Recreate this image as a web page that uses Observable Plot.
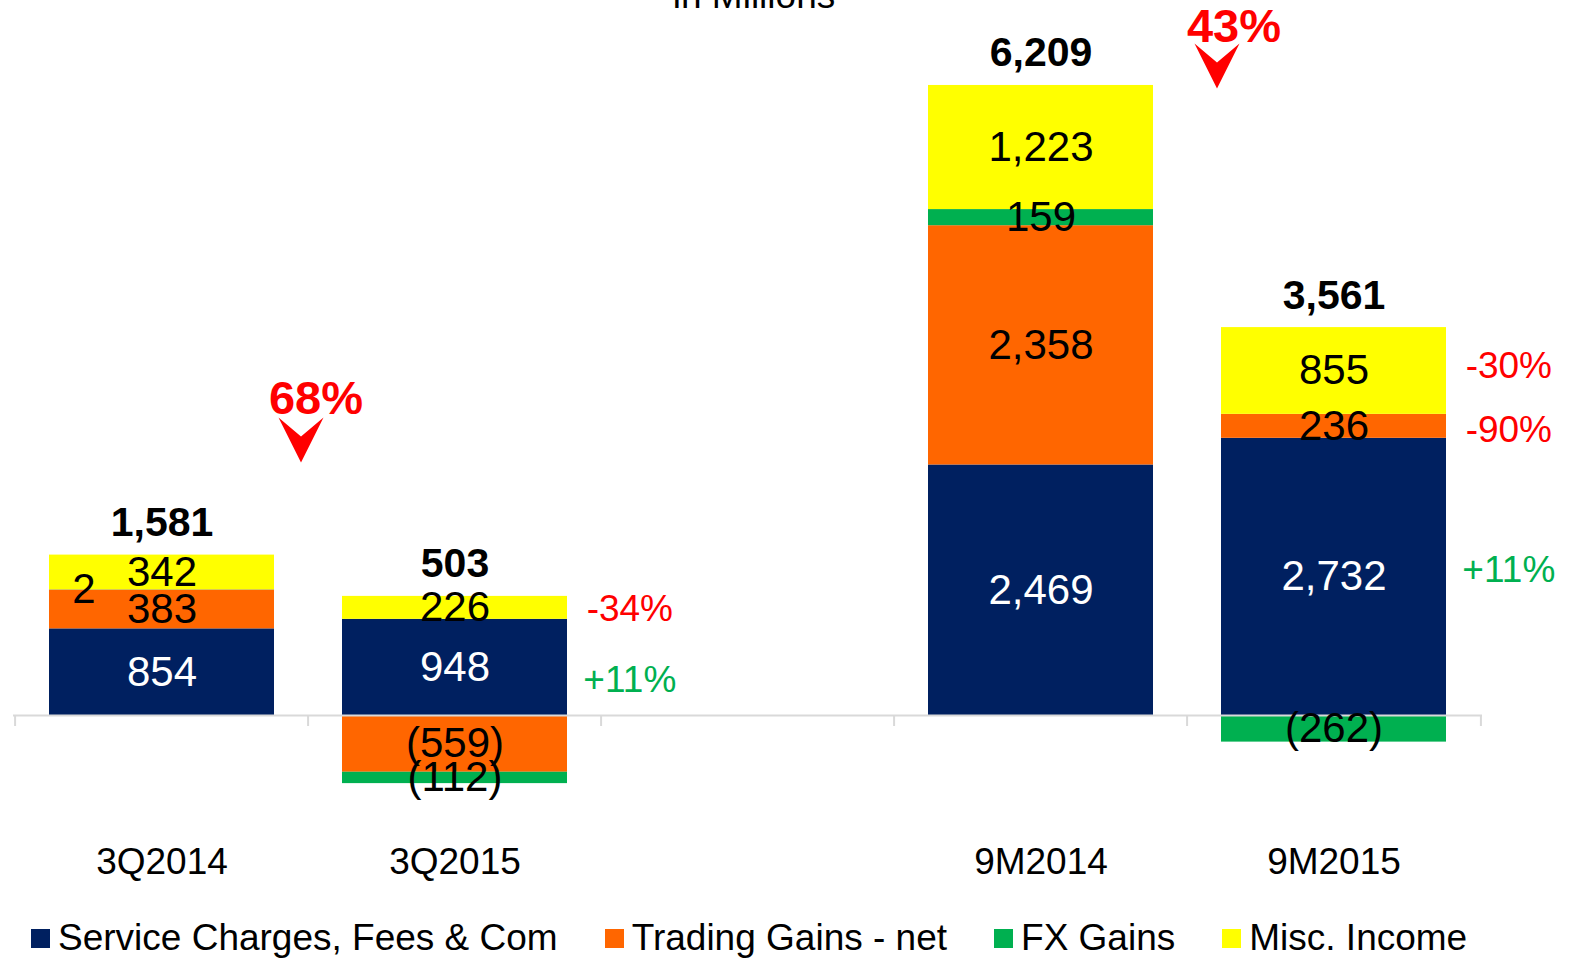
<!DOCTYPE html>
<html><head><meta charset="utf-8">
<script src="https://cdn.jsdelivr.net/npm/d3@7"></script>
<script src="https://cdn.jsdelivr.net/npm/@observablehq/plot@0.6"></script>
<style>
body{margin:0;background:#fff;font-family:"Liberation Sans",Arial,sans-serif;}
#wrap{position:relative;width:1573px;height:960px;overflow:hidden;background:#fff;}
#title{position:absolute;left:454px;width:600px;top:-22px;text-align:center;font-size:37px;line-height:36px;color:#000;}
#legend{position:absolute;left:31px;top:918px;height:40px;display:flex;align-items:center;font-size:37px;line-height:40px;color:#000;white-space:nowrap;}
.item{display:flex;align-items:center;margin-right:47px;}
.sw{width:19px;height:19px;margin-right:8px;flex:none;}
</style></head><body>
<div id="wrap"><div id="chart"></div><div id="title">in Millions</div><div id="legend"></div></div>
<script>
// ---- data ----
const periods = ["3Q2014", "3Q2015", "9M2014", "9M2015"];
const slots = ["3Q2014", "3Q2015", " ", "9M2014", "9M2015"];
const seriesNames = ["Service Charges, Fees & Com", "Trading Gains - net", "FX Gains", "Misc. Income"];
const seriesColors = ["#002060", "#FF6600", "#00B050", "#FFFF00"];
const serviceCharges = [854, 948, 2469, 2732];
const tradingGains = [383, -559, 2358, 236];
const fxGains = [2, -112, 159, -262];
const miscIncome = [342, 226, 1223, 855];
const changeTexts = ["-34%", "+11%", "-30%", "-90%", "+11%"];
const changePeriods = ["3Q2015", "3Q2015", "9M2015", "9M2015", "9M2015"];
const changeAnchors = [1045, 345, 3439, 2809, 1429];
const changeColors = ["#FF0000", "#00B050", "#FF0000", "#FF0000", "#00B050"];
const bigTexts = ["68%", "43%"];
const bigPeriods = ["3Q2015", "9M2015"];
const bigTextAnchors = [2976, 6633];
const bigArrowAnchors = [2493, 6179];
const bigTextDx = [-139, -100];
const bigArrowDx = [-154, -117];

// ---- layout ----
const W = 1573, H = 905, mL = 13, mR = 91, mT = 4.7, mB = 88.5;
const yMin = -1000, yMax = 7000;
const padInner = 0.232;
const step = (W - mL - mR) / slots.length;
const bandwidth = step * (1 - padInner);
const k = (H - mT - mB) / (yMax - yMin);

const seriesValues = [serviceCharges, tradingGains, fxGains, miscIncome];
const rows = [];
periods.forEach((p, i) => seriesNames.forEach((s, j) => rows.push({period: p, series: s, value: seriesValues[j][i], color: seriesColors[j]})));
const totals = periods.map((p, i) => ({
  period: p,
  total: d3.sum(seriesValues, v => v[i]),
  top: d3.sum(seriesValues, v => Math.max(0, v[i]))
}));
const changes = changeTexts.map((t, i) => ({period: changePeriods[i], y: changeAnchors[i], text: t, color: changeColors[i]}));

const fmt = v => v < 0 ? `(${d3.format(",")(-v)})` : d3.format(",")(v);
const arrowSymbol = {draw(ctx) {
  ctx.moveTo(0, 0); ctx.lineTo(-22.5, -45); ctx.lineTo(0, -26); ctx.lineTo(22.5, -45); ctx.closePath();
}};

const bigMarks = bigTexts.flatMap((t, i) => [
  Plot.text([{period: bigPeriods[i], y: bigTextAnchors[i], t}], {x: "period", y: "y", text: "t", dx: bigTextDx[i], lineAnchor: "bottom", fontSize: 47, fontWeight: "bold", fill: "#FF0000"}),
  Plot.dot([{period: bigPeriods[i], y: bigArrowAnchors[i]}], {x: "period", y: "y", dx: bigArrowDx[i], symbol: arrowSymbol, r: 10, fill: "#FF0000", stroke: "none"})
]);

const chart = Plot.plot({
  width: W, height: H,
  marginLeft: mL, marginRight: mR, marginTop: mT, marginBottom: mB,
  style: {fontFamily: "'Liberation Sans', Arial, sans-serif", background: "white", overflow: "visible", color: "black"},
  x: {domain: slots, paddingInner: padInner, paddingOuter: padInner / 2, axis: null},
  y: {domain: [yMin, yMax], axis: null},
  marks: [
    Plot.barY(rows, {x: "period", y: "value", z: "series", fill: "color"}),
    Plot.ruleY([0], {stroke: "#d9d9d9", strokeWidth: 2}),
    Plot.ruleX(slots, {x: d => d, y1: 0, y2: -11 / k, dx: -step / 2, stroke: "#d9d9d9", strokeWidth: 2}),
    Plot.ruleX(slots.slice(-1), {x: d => d, y1: 0, y2: -11 / k, dx: step / 2, stroke: "#d9d9d9", strokeWidth: 2}),
    Plot.text(rows, Plot.stackY({x: "period", y: "value", z: "series",
      text: d => Math.abs(d.value) < 10 ? "" : fmt(d.value),
      fill: d => d.series === seriesNames[0] ? "white" : "black", fontSize: 42})),
    Plot.text(rows, Plot.stackY({x: "period", y: "value", z: "series",
      text: d => Math.abs(d.value) < 10 ? fmt(d.value) : "",
      dx: -78, fill: "black", fontSize: 42})),
    Plot.text(totals, {x: "period", y: "top", text: d => d3.format(",")(d.total), lineAnchor: "bottom", dy: -19, fontSize: 41, fontWeight: "bold", fill: "black"}),
    Plot.text(changes, {x: "period", y: "y", text: "text", fill: "color", dx: bandwidth / 2 + 62, fontSize: 37}),
    ...bigMarks,
    Plot.axisX({tickSize: 0, tickPadding: 31, fontSize: 37, label: null, tickFormat: d => d})
  ]
});
document.getElementById("chart").appendChild(chart);

const legend = document.getElementById("legend");
seriesNames.forEach((s, j) => {
  const item = document.createElement("div");
  item.className = "item";
  const sw = document.createElement("div");
  sw.className = "sw";
  sw.style.background = seriesColors[j];
  const label = document.createElement("span");
  label.textContent = s;
  item.appendChild(sw); item.appendChild(label);
  legend.appendChild(item);
});
</script></body></html>
